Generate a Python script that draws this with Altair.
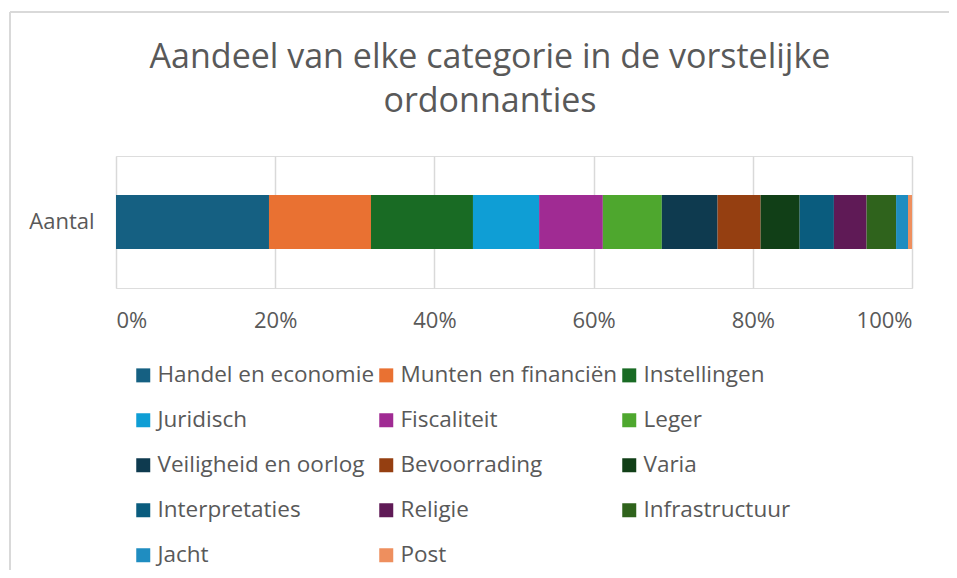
import altair as alt
import pandas as pd

categories = [
    "Handel en economie", "Munten en financiën", "Instellingen",
    "Juridisch", "Fiscaliteit", "Leger",
    "Veiligheid en oorlog", "Bevoorrading", "Varia",
    "Interpretaties", "Religie", "Infrastructuur",
    "Jacht", "Post",
]
shares = [19.2, 12.8, 12.8, 8.3, 8.0, 7.4, 7.0, 5.4, 4.9, 4.3, 4.1, 3.7, 1.5, 0.5]
colors = [
    "#156082", "#E97132", "#196B24",
    "#0F9ED5", "#A02B93", "#4EA72E",
    "#0E3A4F", "#953F11", "#113F17",
    "#0A5C7E", "#5F1A56", "#2F631C",
    "#1F8DC1", "#EE8F5E",
]
row_label = "Aantal"
x_ticks = [0, 0.2, 0.4, 0.6, 0.8, 1.0]
title_lines = ["Aandeel van elke categorie in de vorstelijke", "ordonnanties"]

df = pd.DataFrame({
    "rij": [row_label] * len(categories),
    "categorie": categories,
    "aandeel": shares,
    "volgorde": list(range(len(categories))),
})

FONT = "Open Sans"
GREY = "#595959"
AFS = 22
LFS = 22.5

bars = alt.Chart(df).mark_bar(size=54).encode(
    x=alt.X("aandeel:Q", stack="normalize",
            scale=alt.Scale(domain=[0, 1], nice=False),
            axis=alt.Axis(values=x_ticks, format="%", title=None,
                          grid=True, gridColor="#D9D9D9", gridWidth=1.5,
                          domain=False, ticks=False, labelPadding=22,
                          labelFontSize=AFS, labelColor=GREY, labelFont=FONT)),
    y=alt.Y("rij:N", axis=alt.Axis(title=None, domain=False, ticks=False,
                                   labelPadding=22, labelFontSize=AFS,
                                   labelColor=GREY, labelFont=FONT)),
    color=alt.Color("categorie:N", sort=categories,
                    scale=alt.Scale(domain=categories, range=colors),
                    legend=alt.Legend(title=None, orient="none",
                                      direction="horizontal",
                                      legendX=16, legendY=208,
                                      columns=3, gridAlign="all",
                                      columnPadding=-1.5, rowPadding=22,
                                      symbolType="square", symbolSize=196,
                                      symbolStrokeWidth=0, symbolOffset=0,
                                      labelOffset=3, labelLimit=400,
                                      labelFontSize=LFS, labelColor=GREY,
                                      labelFont=FONT)),
    order=alt.Order("volgorde:Q", sort="ascending"),
)

frame_data = alt.Data(values=[{"k": 0}])
frame_left = alt.Chart(frame_data).mark_rule(color="#D9D9D9", strokeWidth=2).encode(
    x=alt.value(-106), y=alt.value(-144), y2=alt.value(430))
frame_top = alt.Chart(frame_data).mark_rule(color="#D9D9D9", strokeWidth=2).encode(
    x=alt.value(-106), x2=alt.value(845), y=alt.value(-144))

chart = alt.layer(frame_left, frame_top, bars).properties(
    width=796, height=132,
    padding={"left": 108, "top": 148, "right": 37, "bottom": 282},
    autosize=alt.AutoSizeParams(type="none"),
    title=alt.Title(title_lines, fontSize=34, color=GREY, font=FONT,
                    fontWeight="normal", lineHeight=44, anchor="middle",
                    frame="group", dx=-24, offset=0, dy=108),
).configure_view(stroke=None).configure(background="white")

chart.save("out.html", embed_options={"renderer": "svg", "actions": False})
